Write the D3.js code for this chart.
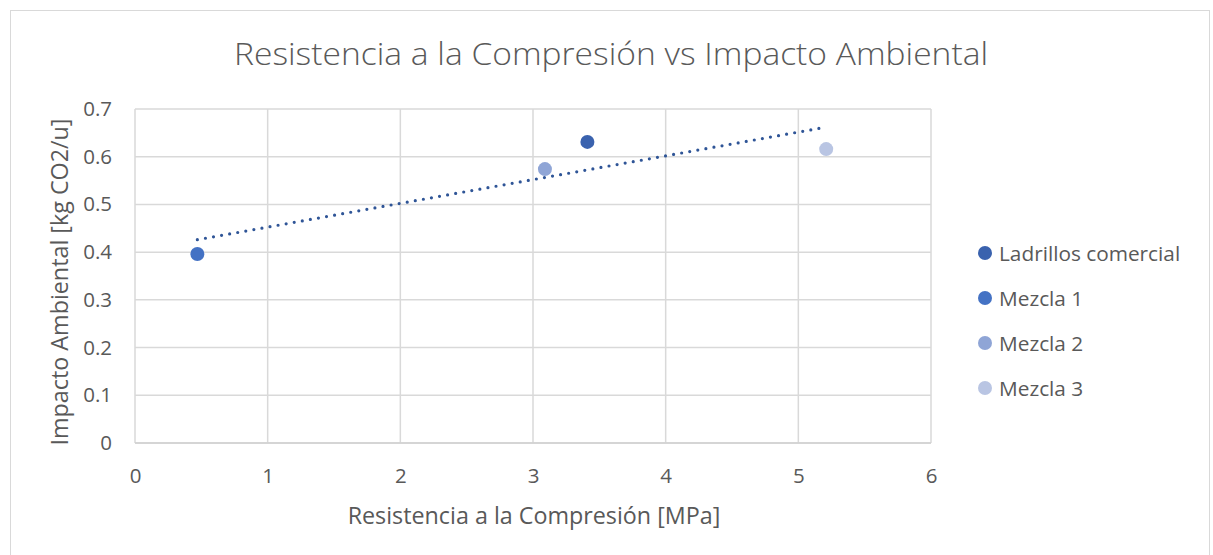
<!DOCTYPE html>
<html><head><meta charset="utf-8">
<script src="https://cdn.jsdelivr.net/npm/d3@7"></script>
<style>body{margin:0;background:#fff;} text{font-family:"Open Sans","Liberation Sans",sans-serif;}</style>
</head><body>
<svg id="c" width="1213" height="555"></svg>
<script>
const seriesNames = ["Ladrillos comercial","Mezcla 1","Mezcla 2","Mezcla 3"];
const resistencia = [3.41, 0.47, 3.09, 5.21];
const impacto = [0.631, 0.396, 0.574, 0.616];
const colors = ["#3A62AE","#4472C4","#8FA5D6","#B9C5E3"];
const xTicks = [0,1,2,3,4,5,6];
const yTicks = [0,0.1,0.2,0.3,0.4,0.5,0.6,0.7];
const title = "Resistencia a la Compresión vs Impacto Ambiental";
const xTitle = "Resistencia a la Compresión [MPa]";
const yTitle = "Impacto Ambiental [kg CO2/u]";

const svg = d3.select("#c");
const L=135, R=931, T=109, B=443;
const x = d3.scaleLinear().domain([0,6]).range([L,R]);
const y = d3.scaleLinear().domain([0,0.7]).range([B,T]);

svg.append("rect").attr("x",10.5).attr("y",10.5).attr("width",1199).attr("height",560)
  .attr("fill","#fff").attr("stroke","#d9d9d9").attr("stroke-width",1);

svg.append("text").attr("x",611).attr("y",65).attr("text-anchor","middle")
  .attr("font-size",32).attr("fill","#595959").attr("font-weight",300)
  .attr("textLength",754).attr("lengthAdjust","spacingAndGlyphs").text(title);

// gridlines
const g = svg.append("g");
g.selectAll(".vx").data(xTicks).join("line")
  .attr("x1",d=>x(d)).attr("x2",d=>x(d)).attr("y1",T).attr("y2",B)
  .attr("stroke","#d9d9d9").attr("stroke-width",1.5);
g.selectAll(".hy").data(yTicks).join("line")
  .attr("x1",L).attr("x2",R).attr("y1",d=>y(d)).attr("y2",d=>y(d))
  .attr("stroke","#d9d9d9").attr("stroke-width",1.5);

// axes tick labels via d3 axes
const xAxis = svg.append("g").attr("transform",`translate(0,${B})`)
  .call(d3.axisBottom(x).tickValues(xTicks).tickSize(0).tickPadding(25).tickFormat(d3.format("d")));
const yAxis = svg.append("g").attr("transform",`translate(${L},0)`)
  .call(d3.axisLeft(y).tickValues(yTicks).tickSize(0).tickPadding(23).tickFormat(d=>d===0?"0":String(+d.toFixed(1))));
[xAxis,yAxis].forEach(a=>{
  a.select(".domain").remove();
  a.selectAll("text").attr("font-size",20.5).attr("fill","#595959")
   .attr("font-family","'Open Sans','Liberation Sans',sans-serif");
});
svg.append("line").attr("x1",L).attr("x2",R).attr("y1",B).attr("y2",B)
  .attr("stroke","#d0d0d0").attr("stroke-width",1.5);

// axis titles
svg.append("text").attr("x",534).attr("y",524).attr("text-anchor","middle")
  .attr("font-size",23.3).attr("fill","#595959").text(xTitle);
svg.append("text").attr("transform","translate(68,282) rotate(-90)").attr("text-anchor","middle")
  .attr("font-size",23.3).attr("fill","#595959").text(yTitle);

// trendline (linear regression of the points)
const mx = d3.mean(resistencia), my = d3.mean(impacto);
const slope = d3.sum(resistencia.map((v,i)=>(v-mx)*(impacto[i]-my)))/d3.sum(resistencia.map(v=>(v-mx)**2));
const icpt = my - slope*mx;
const x0 = d3.min(resistencia), x1 = d3.max(resistencia);
svg.append("line").attr("x1",x(x0)).attr("y1",y(icpt+slope*x0)).attr("x2",x(x1)).attr("y2",y(icpt+slope*x1))
  .attr("stroke","#2F5597").attr("stroke-width",3.2).attr("stroke-linecap","round").attr("stroke-dasharray","0 8.2");

// points
svg.selectAll(".pt").data(seriesNames).join("circle")
  .attr("cx",(d,i)=>x(resistencia[i])).attr("cy",(d,i)=>y(impacto[i])).attr("r",7)
  .attr("fill",(d,i)=>colors[i]);

// legend
const lg = svg.append("g");
seriesNames.forEach((s,i)=>{
  const yy = 253 + i*45;
  lg.append("circle").attr("cx",985).attr("cy",yy).attr("r",7).attr("fill",colors[i]);
  lg.append("text").attr("x",999).attr("y",yy+7.5).attr("font-size",20.8).attr("fill","#595959").text(s);
});
</script>
</body></html>
